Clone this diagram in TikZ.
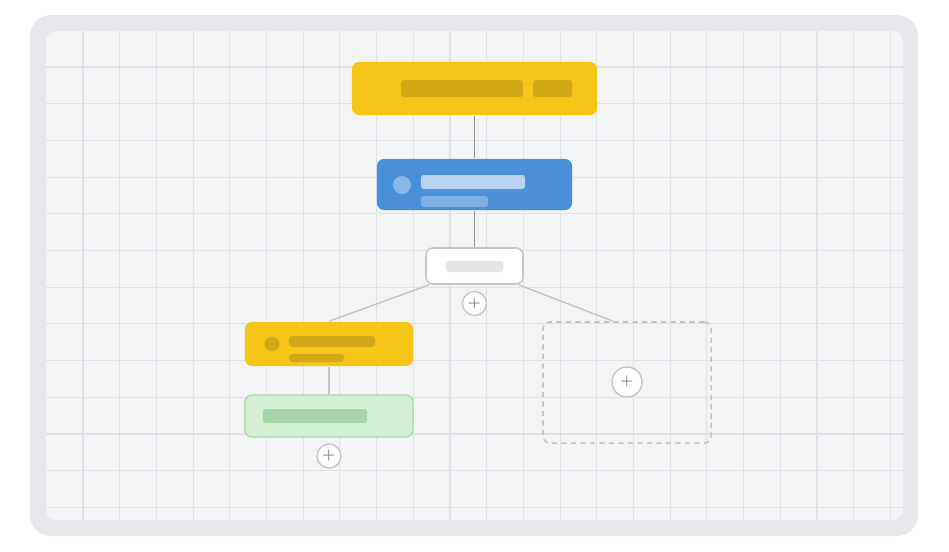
\documentclass[tikz,border=0pt]{standalone}
\usepackage{tikz}
\usetikzlibrary{positioning}
\definecolor{frame}{HTML}{E7E8EB}
\definecolor{canvas}{HTML}{F3F4F6}
\definecolor{gridc}{HTML}{E1E2E5}
\definecolor{gold}{HTML}{F5C518}
\definecolor{golddark}{HTML}{D1A917}
\definecolor{bluebox}{HTML}{4A90D9}
\definecolor{greenbox}{HTML}{D4F0D4}
\definecolor{greenline}{HTML}{A9D8A9}
\definecolor{greenbar}{HTML}{A6D6A6}
\tikzset{
  box/.style={rectangle, rounded corners=2pt, inner sep=0pt},
  bar/.style={rectangle, rounded corners=0.8pt, inner sep=0pt},
  plus/.style={circle, draw=gray!45, line width=0.4pt, fill=white, inner sep=0pt, text=gray!80!black, font=\sffamily\fontsize{4.5}{4.5}\selectfont},
  link/.style={draw=gray!85, line width=0.45pt},
  branch/.style={draw=gray!45, line width=0.4pt}
}
\begin{document}
\begin{tikzpicture}[x=0.01cm, y=-0.01cm]
  \useasboundingbox (0,0) rectangle (949,551);
  % frame and grid
  \fill[frame, rounded corners=6pt] (30,15) rectangle (918,536);
  \fill[canvas, rounded corners=3pt] (46,31) rectangle (903,520);
  \begin{scope}
    \clip[rounded corners=3pt] (46,31) rectangle (903,520);
    \foreach \i in {0,...,22} \draw[gridc, line width=0.3pt] (83+36.7*\i,31) -- (83+36.7*\i,520);
    \foreach \j in {0,...,12} \draw[gridc, line width=0.3pt] (46,67+36.7*\j) -- (903,67+36.7*\j);
  \end{scope}

  % boxes
  \node[box, fill=gold, minimum width=2.45cm, minimum height=0.53cm] (root) at (474.5,88.5) {};
  \node[bar, fill=golddark, minimum width=1.22cm, minimum height=0.17cm] (rootbar) at (462,88.5) {};
  \node[bar, fill=golddark, minimum width=0.39cm, minimum height=0.17cm] (roottag) at (552.5,88.5) {};

  \node[box, fill=bluebox, minimum width=1.95cm, minimum height=0.51cm] (step) at (474.5,184.5) {};
  \node[circle, fill=white!35!bluebox, minimum size=0.18cm, inner sep=0pt] (stepdot) at (402,185) {};
  \node[bar, fill=white!60!bluebox, minimum width=1.04cm, minimum height=0.14cm] (steptitle) at (473,182) {};
  \node[bar, fill=white!30!bluebox, minimum width=0.67cm, minimum height=0.11cm] (stepsub) at (454.5,201.5) {};

  \node[box, fill=white, draw=gray!45, line width=0.45pt, minimum width=0.97cm, minimum height=0.36cm] (split) at (474.5,266) {};
  \node[bar, fill=gray!20, minimum width=0.57cm, minimum height=0.11cm] (splitbar) at (474.5,266.5) {};
  \node[plus, minimum size=0.24cm] (addsplit) at (474.5,303.5) {+};

  \node[box, fill=gold, minimum width=1.68cm, minimum height=0.44cm] (left) at (329,344) {};
  \node[circle, fill=golddark, minimum size=0.15cm, inner sep=0pt] (leftdot) at (272,344) {};
  \node[bar, fill=golddark, minimum width=0.86cm, minimum height=0.11cm] (lefttitle) at (332,341.5) {};
  \node[bar, fill=golddark, minimum width=0.55cm, minimum height=0.08cm] (leftsub) at (316.5,358) {};

  \node[box, fill=greenbox, draw=greenline, line width=0.35pt, minimum width=1.68cm, minimum height=0.42cm] (done) at (329,416) {};
  \node[bar, fill=greenbar, minimum width=1.04cm, minimum height=0.14cm] (donebar) at (315,416) {};
  \node[plus, minimum size=0.24cm] (adddone) at (329,456) {+};

  \node[box, draw=gray!45, line width=0.45pt, dash pattern=on 1.5pt off 1.2pt, minimum width=1.68cm, minimum height=1.21cm] (empty) at (627,382.5) {};
  \node[plus, minimum size=0.3cm] (addempty) at (627,382) {+};

  % connectors
  \path[link] (root) -- (step);
  \path[link] (step) -- (split);
  \path[branch] (split.south west) ++(4,0) -- (left.north);
  \path[branch] (split.south east) ++(-5,0) -- (empty.north -| 613,0);
  \path[branch] (left) -- (done);
\end{tikzpicture}
\end{document}
